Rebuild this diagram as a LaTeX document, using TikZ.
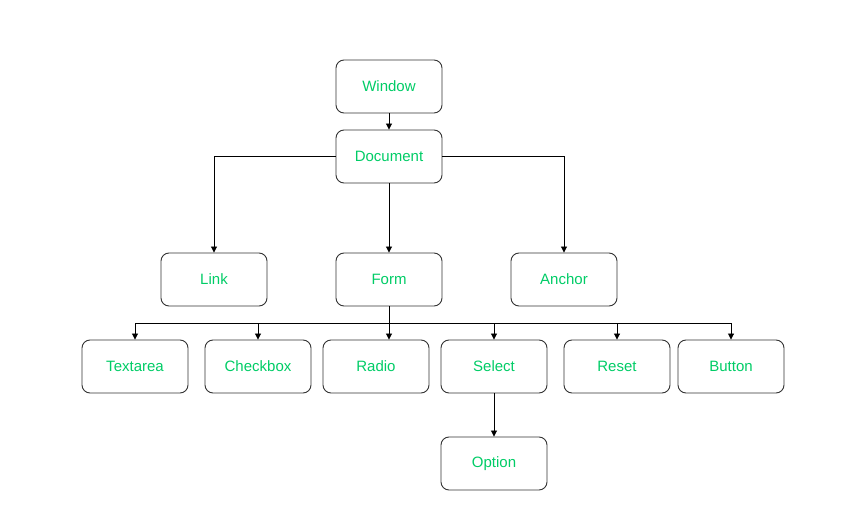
\documentclass[tikz,border=0pt]{standalone}
\usepackage{fontspec}
\setmainfont{Liberation Sans}
\usetikzlibrary{arrows.meta}
\definecolor{txtgreen}{RGB}{0,204,102}
\definecolor{boxline}{RGB}{51,51,51}
\tikzset{
  box/.style={draw=boxline, line width=0.9pt, rounded corners=8pt, minimum width=106pt, minimum height=53pt, inner sep=0pt, text=txtgreen, font=\fontsize{15}{18}\selectfont},
  conn/.style={draw=black, line width=0.9pt, -{Triangle[length=6pt,width=6pt]}}
}
\begin{document}
\begin{tikzpicture}[x=1pt,y=-1pt]
\useasboundingbox (0,0) rectangle (860,518);
\node[box] (win) at (389,86.5) {Window};
\node[box] (doc) at (389,156.5) {Document};
\node[box] (link) at (214,279.5) {Link};
\node[box] (form) at (389,279.5) {Form};
\node[box] (anch) at (564,279.5) {Anchor};
\node[box] (ta) at (135,366.5) {Textarea};
\node[box] (cb) at (258,366.5) {Checkbox};
\node[box] (rad) at (376,366.5) {Radio};
\node[box] (sel) at (494,366.5) {Select};
\node[box] (res) at (617,366.5) {Reset};
\node[box] (btn) at (731,366.5) {Button};
\node[box] (opt) at (494,463.5) {Option};
\coordinate (bus) at (389,323);
\draw[conn] (win) -- (doc);
\draw[conn] (doc.west) -| (link.north);
\draw[conn] (doc.east) -| (anch.north);
\draw[conn] (doc) -- (form);
\draw[conn] (form.south) -- (form.south |- rad.north);
\draw[conn] (form.south) -- (bus) -| (ta.north);
\draw[conn] (bus) -| (cb.north);
\draw[conn] (bus) -| (sel.north);
\draw[conn] (bus) -| (res.north);
\draw[conn] (bus) -| (btn.north);
\draw[conn] (sel) -- (opt);
\end{tikzpicture}
\end{document}
